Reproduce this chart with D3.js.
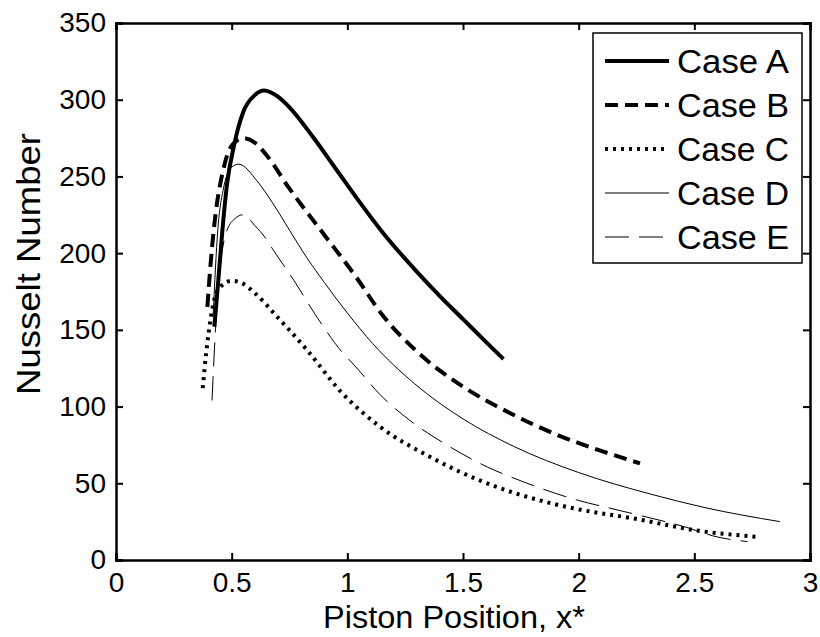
<!DOCTYPE html>
<html>
<head>
<meta charset="utf-8">
<script src="https://cdn.jsdelivr.net/npm/d3@7"></script>
<style>
  body { margin: 0; background: #fff; }
  text { font-family: "Liberation Sans", Arial, sans-serif; fill: #000; }
</style>
</head>
<body>
<div id="chart"></div>
<script>
// Nusselt number vs piston position, five cases

const width = 820;
const height = 637;
const margin = {left: 116, right: 10, top: 23, bottom: 77};

const caseNames = ["Case A", "Case B", "Case C", "Case D", "Case E"];
const xTicks = [0, 0.5, 1, 1.5, 2, 2.5, 3];
const yTicks = [0, 50, 100, 150, 200, 250, 300, 350];

// [x*, Nu]
const caseA = [[0.425,152],[0.44,178],[0.46,215],[0.48,245],[0.51,270],[0.55,292],[0.60,303],[0.64,306],[0.70,302],[0.75,295],[0.85,276],[0.95,255],[1.04,236],[1.15,214],[1.3,188],[1.4,172],[1.5,157],[1.6,142],[1.675,131]];
const caseB = [[0.395,165],[0.41,195],[0.43,225],[0.46,252],[0.50,270],[0.55,275],[0.60,272],[0.65,264],[0.75,242],[0.9,212],[1.04,184],[1.15,160],[1.3,136],[1.5,113],[1.7,96],[1.9,82],[2.1,71],[2.265,63]];
const caseC = [[0.375,112],[0.39,135],[0.41,158],[0.44,176],[0.5,182],[0.55,180],[0.6,174],[0.7,158],[0.825,137],[0.97,110],[1.14,87],[1.36,67],[1.57,52],[1.88,37],[2.0,33],[2.24,27],[2.52,19],[2.78,15]];
const caseD = [[0.42,160],[0.44,215],[0.463,241],[0.5,256],[0.53,258],[0.61,247],[0.68,232],[0.75,215],[0.825,197],[0.9,181],[1.0,161],[1.11,141],[1.29,115],[1.5,92],[1.72,74],[2.0,57],[2.31,43],[2.55,34],[2.87,25]];
const caseE = [[0.415,104],[0.43,150],[0.45,190],[0.47,210],[0.51,222],[0.55,225],[0.6,218],[0.65,209],[0.68,202],[0.77,182],[0.87,158],[0.98,135],[1.03,127],[1.14,108],[1.27,91],[1.43,75],[1.6,61],[1.76,51],[1.95,41],[2.24,30],[2.45,22],[2.6,15],[2.73,12]];

const allCases = [caseA, caseB, caseC, caseD, caseE];
const lineStyles = [
  {w: 4, dash: null},
  {w: 4, dash: "13,7"},
  {w: 4, dash: "3,5"},
  {w: 1, dash: null},
  {w: 1, dash: "24,10"}
];

const svg = d3.select("#chart")
  .append("svg")
  .attr("width", width)
  .attr("height", height);

const x = d3.scaleLinear().domain([0, 3]).range([margin.left, width - margin.right]);
const y = d3.scaleLinear().domain([0, 350]).range([height - margin.bottom, margin.top]);

// curves
const line = d3.line()
  .x(d => x(d[0]))
  .y(d => y(d[1]))
  .curve(d3.curveMonotoneX);

allCases.forEach((c, i) => {
  svg.append("path")
    .datum(c)
    .attr("fill", "none")
    .attr("stroke", "#000")
    .attr("stroke-width", lineStyles[i].w)
    .attr("stroke-dasharray", lineStyles[i].dash)
    .attr("d", line);
});

// axes box with ticks inward on all four sides
const tickLen = 7;
svg.append("g")
  .attr("transform", `translate(0,${y(0)})`)
  .call(d3.axisBottom(x).tickValues(xTicks).tickSize(-tickLen).tickPadding(12).tickFormat(d3.format("")))
  .call(g => g.selectAll("text").attr("font-size", 28).attr("dy", "0.71em"));
svg.append("g")
  .attr("transform", `translate(0,${y(350)})`)
  .call(d3.axisTop(x).tickValues(xTicks).tickSize(-tickLen).tickFormat(""));
svg.append("g")
  .attr("transform", `translate(${x(0)},0)`)
  .call(d3.axisLeft(y).tickValues(yTicks).tickSize(-tickLen).tickPadding(10))
  .call(g => g.selectAll("text").attr("font-size", 28));
svg.append("g")
  .attr("transform", `translate(${x(3)},0)`)
  .call(d3.axisRight(y).tickValues(yTicks).tickSize(-tickLen).tickFormat(""));

svg.selectAll(".domain").attr("stroke", "#000").attr("stroke-width", 2.5);
svg.selectAll(".tick line").attr("stroke", "#000").attr("stroke-width", 2);

// axis titles
svg.append("text")
  .attr("x", 454)
  .attr("y", 628)
  .attr("text-anchor", "middle")
  .attr("font-size", 32)
  .attr("textLength", 262)
  .attr("lengthAdjust", "spacingAndGlyphs")
  .text("Piston Position, x*");

svg.append("text")
  .attr("transform", `translate(40,264) rotate(-90)`)
  .attr("text-anchor", "middle")
  .attr("font-size", 33)
  .attr("textLength", 262)
  .attr("lengthAdjust", "spacingAndGlyphs")
  .text("Nusselt Number");

// legend
const legend = svg.append("g");
legend.append("rect")
  .attr("x", 593).attr("y", 33)
  .attr("width", 209).attr("height", 230)
  .attr("fill", "#fff")
  .attr("stroke", "#000")
  .attr("stroke-width", 1.5);

caseNames.forEach((name, i) => {
  const ly = 61 + i * 44;
  legend.append("line")
    .attr("x1", 605).attr("x2", 669)
    .attr("y1", ly).attr("y2", ly)
    .attr("stroke", "#000")
    .attr("stroke-width", lineStyles[i].w)
    .attr("stroke-dasharray", lineStyles[i].dash);
  legend.append("text")
    .attr("x", 677).attr("y", ly)
    .attr("dy", "0.36em")
    .attr("font-size", 33)
    .attr("textLength", 112)
    .attr("lengthAdjust", "spacingAndGlyphs")
    .text(name);
});
</script>
</body>
</html>
